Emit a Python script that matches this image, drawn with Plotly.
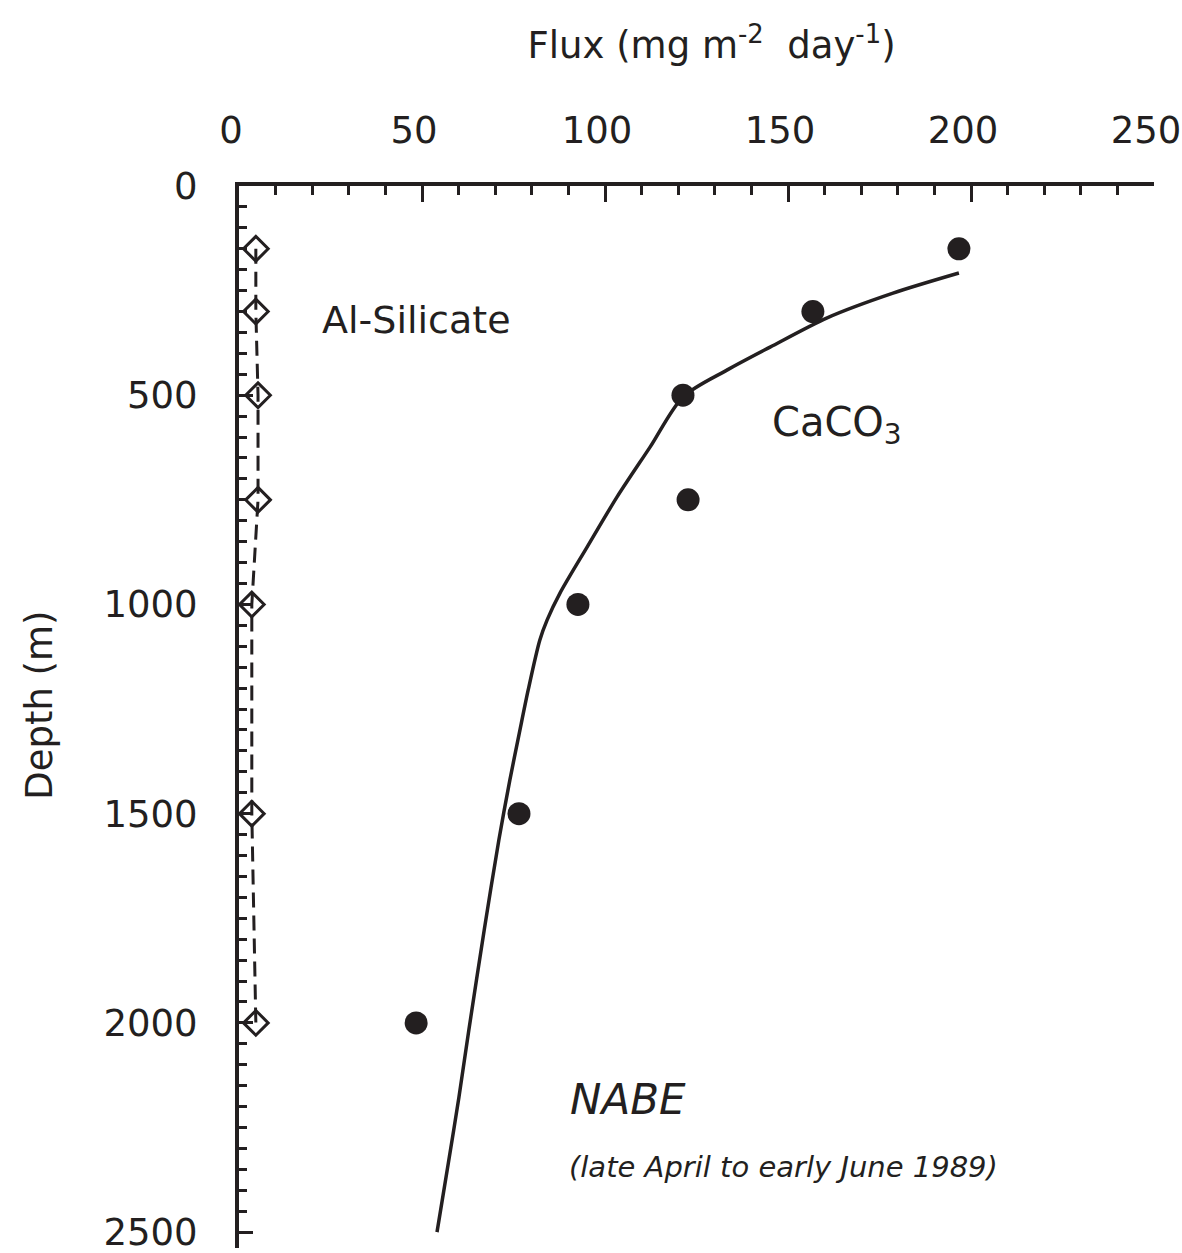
import plotly.graph_objects as go

# Sediment-trap fluxes, NABE 1989
depth_m = [150, 300, 500, 750, 1000, 1500, 2000]
al_silicate_flux = [4.6, 4.6, 5.2, 5.2, 3.5, 3.5, 4.6]
caco3_flux = [196.7, 156.8, 121.3, 122.7, 92.6, 76.5, 48.4]

# Fitted CaCO3 flux profile
fit_depth = [208, 256, 315, 385, 440, 504, 624, 743, 863, 973, 1037, 1085,
             1205, 1307, 1420, 1563, 1778, 2017, 2177, 2335, 2500]
fit_flux = [196.7, 178.7, 160.7, 145.1, 133.3, 121.3, 112.3, 103.3, 95.1, 87.7,
            84.2, 82.2, 79.0, 76.6, 74.0, 71.0, 67.0, 62.8, 60.1, 57.2, 54.1]

x_ticks = [0, 50, 100, 150, 200, 250]
y_ticks = [0, 500, 1000, 1500, 2000, 2500]

INK = "#231f20"
FONT = "DejaVu Sans"

fig = go.Figure()

fig.add_trace(go.Scatter(
    x=al_silicate_flux, y=depth_m, mode="lines+markers",
    line=dict(color=INK, width=3, dash="15px,8px"),
    marker=dict(symbol="diamond-open", size=19, color=INK,
                line=dict(color=INK, width=3)),
    showlegend=False, cliponaxis=False,
))

fig.add_trace(go.Scatter(
    x=fit_flux, y=fit_depth, mode="lines",
    line=dict(color=INK, width=3.5, shape="spline", smoothing=0.8),
    showlegend=False,
))

fig.add_trace(go.Scatter(
    x=caco3_flux, y=depth_m, mode="markers",
    marker=dict(symbol="circle", size=23, color=INK),
    showlegend=False, cliponaxis=False,
))

fig.update_layout(
    width=1182, height=1253,
    margin=dict(l=239, r=28, t=186, b=5, autoexpand=False),
    paper_bgcolor="white", plot_bgcolor="white",
    font=dict(family=FONT, color=INK, size=36),
    title=dict(
        text="Flux (mg m<sup>-2</sup>  day<sup>-1</sup>)",
        xref="container", yref="container", x=0.602, y=0.964,
        xanchor="center", yanchor="middle",
        font=dict(family=FONT, size=37, color=INK),
    ),
    xaxis=dict(
        side="top", range=[0, 250], tickvals=x_ticks,
        ticktext=[str(v) for v in x_ticks], automargin=False,
        showgrid=False, zeroline=False,
        showline=True, linecolor=INK, linewidth=4,
        ticks="inside", ticklen=16, tickwidth=3, tickcolor=INK,
        ticklabelstandoff=24, ticklabelshift=-8, ticklabeloverflow="allow",
        tickfont=dict(family=FONT, size=37, color=INK),
        minor=dict(dtick=10, ticks="inside", ticklen=9, tickwidth=2.5,
                   tickcolor=INK, showgrid=False),
    ),
    yaxis=dict(
        range=[2538, 0], tickvals=y_ticks,
        ticktext=[str(v) for v in y_ticks], automargin=False,
        showgrid=False, zeroline=False,
        showline=True, linecolor=INK, linewidth=4,
        ticks="inside", ticklen=14, tickwidth=3, tickcolor=INK,
        ticklabelstandoff=30, ticklabeloverflow="allow",
        tickfont=dict(family=FONT, size=37, color=INK),
        minor=dict(dtick=50, ticks="inside", ticklen=8, tickwidth=2.5,
                   tickcolor=INK, showgrid=False),
    ),
)

annotations = [
    dict(x=48.6, y=320, text="Al-Silicate", xanchor="center", yanchor="middle",
         font=dict(family=FONT, size=38, color=INK)),
    dict(x=145, y=571, text="CaCO<sub>3</sub>", xanchor="left", yanchor="middle",
         font=dict(family=FONT, size=40, color=INK)),
    dict(x=89.9, y=2184, text="<i>NABE</i>", xanchor="left", yanchor="middle",
         font=dict(family=FONT, size=42, color=INK)),
    dict(x=89.6, y=2345, text="<i>(late April to early June 1989)</i>",
         xanchor="left", yanchor="middle",
         font=dict(family=FONT, size=29, color=INK)),
    dict(xref="paper", x=-0.2175, y=1240, text="Depth (m)", textangle=-90,
         xanchor="center", yanchor="middle",
         font=dict(family=FONT, size=37, color=INK)),
]
for a in annotations:
    a.setdefault("xref", "x")
    a.setdefault("yref", "y")
    a["showarrow"] = False
fig.update_layout(annotations=annotations)

fig.write_html("out.html")
